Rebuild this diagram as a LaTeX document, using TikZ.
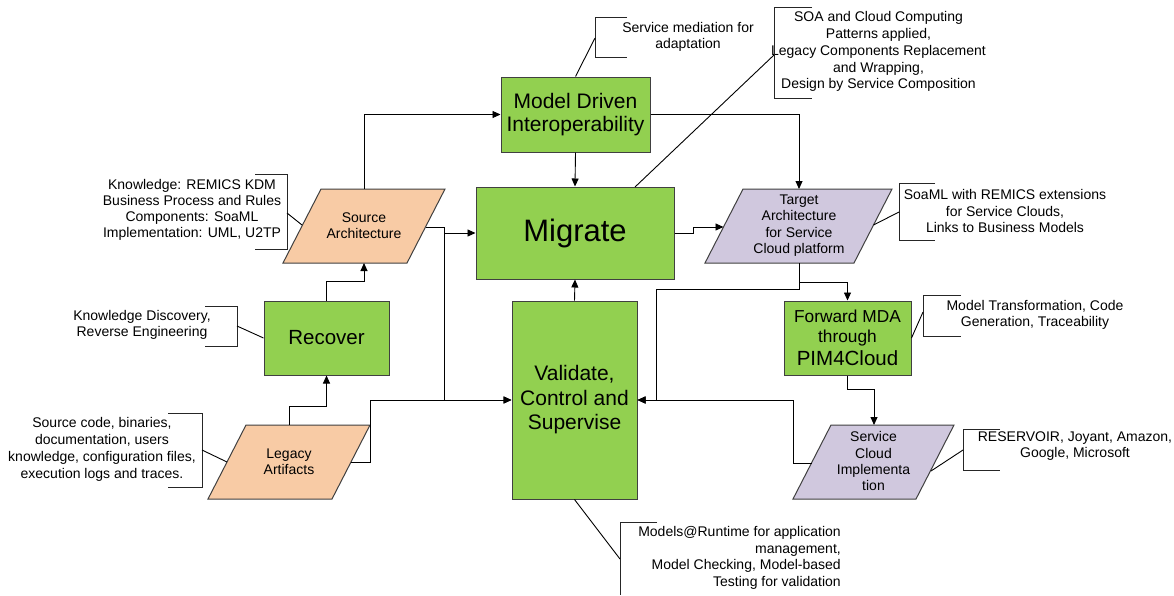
\documentclass[tikz,border=0pt]{standalone}
\usepackage{fontspec}
\setmainfont{Liberation Sans}
\usetikzlibrary{arrows.meta}
\definecolor{gbox}{HTML}{92D050}
\definecolor{peach}{HTML}{F8CBA5}
\definecolor{lav}{HTML}{D0C8DE}
\definecolor{edgec}{HTML}{404040}
\begin{document}
\begin{tikzpicture}[x=1pt,y=-1pt,
  box/.style={draw=edgec, fill=gbox, line width=1pt, inner sep=0pt, align=center},
  pbox/.style={draw=edgec, line width=1pt, line join=miter},
  ptext/.style={align=center, inner sep=0pt, font=\fontsize{14}{16}\selectfont},
  ann/.style={align=center, inner sep=0pt, font=\fontsize{14}{16.5}\selectfont},
  conn/.style={line width=0.9pt, -{Triangle[length=8pt,width=7pt]}},
  wire/.style={line width=0.9pt},
  brk/.style={line width=0.9pt, draw=black!85}]
\useasboundingbox (0,0) rectangle (1174,595);
\fill[white] (0,0) rectangle (1174,595);

% ---- green boxes
\node[box, minimum width=149pt, minimum height=75pt, font=\fontsize{21}{23}\selectfont] (mdi) at (575.5,114.5) {Model Driven\\Interoperability};
\node[box, minimum width=198pt, minimum height=92pt, font=\fontsize{31}{36}\selectfont] (mig) at (575,233) {Migrate};
\node[box, minimum width=125pt, minimum height=74pt, font=\fontsize{20.5}{24}\selectfont] (rec) at (326.5,338) {Recover};
\node[box, minimum width=125pt, minimum height=198pt, font=\fontsize{21}{24.5}\selectfont] (val) at (574.5,400) {Validate,\\Control and\\Supervise};
\node[box, minimum width=127pt, minimum height=74pt, font=\fontsize{17.3}{20}\selectfont] (fwd) at (847.5,338) {Forward MDA\\through\\[3pt]{\fontsize{20.5}{23}\selectfont PIM4Cloud}};

% ---- parallelograms
\draw[pbox, fill=peach] (321,189) -- (445,189) -- (407,263) -- (283,263) -- cycle;
\node[ptext] (src) at (364,225.5) {Source\\Architecture};
\draw[pbox, fill=peach] (246,425) -- (370,425) -- (332,499) -- (208,499) -- cycle;
\node[ptext] (leg) at (289,461.7) {Legacy\\Artifacts};
\draw[pbox, fill=lav] (743,189) -- (892,189) -- (854,263) -- (705,263) -- cycle;
\node[ptext, font=\fontsize{14}{16.5}\selectfont] (tgt) at (799,225.4) {Target\\Architecture\\for Service\\Cloud platform};
\draw[pbox, fill=lav] (831,425) -- (954,425) -- (916,499) -- (793,499) -- cycle;
\node[ptext, font=\fontsize{14}{16.3}\selectfont] (svc) at (873.5,461.2) {Service\\Cloud\\Implementa\\tion};

% ---- anchor points on parallelogram edges
\coordinate (srcN) at (364,189);
\coordinate (srcS) at (364,263);
\coordinate (srcE) at (426,227);
\coordinate (srcW) at (302,225);
\coordinate (legN) at (289,425);
\coordinate (legE) at (351,462);
\coordinate (legW) at (227,462);
\coordinate (tgtN) at (799,189);
\coordinate (tgtS) at (799,263);
\coordinate (tgtW) at (723.5,227);
\coordinate (tgtE) at (873.5,225);
\coordinate (svcN) at (874,425);
\coordinate (svcW) at (811.5,463);
\coordinate (svcE) at (931,471);
\coordinate (migT) at (635,187);

% ---- connectors
\draw[conn] (srcN) |- (mdi.west);
\draw[conn] (mdi.east) -| (tgtN);
\draw[conn] (mdi.south) -- (mig.north);
\draw[conn] (val.north) -- (mig.south);
\coordinate (j1) at (444,227);
\draw[conn] (srcE) -- (j1) -- (444,233) -- (mig.west);
\draw[conn] (j1) -- (444,400) -- (val.west);
\draw[conn] (legE) -- (370,462) -- (370,400) -- (val.west);
\draw[conn] (legN) -- (289,406) -| (rec.south);
\draw[conn] (rec.north) -- (326.5,281) -| (srcS);
\draw[conn] (mig.east) -- (693,233) -- (693,227) -- (tgtW);
\draw[conn] (tgtS) -- (799,282) -| (fwd.north);
\draw[conn] (tgtS) -- (799,289) -- (656,289) -- (656,400) -- (val.east);
\draw[conn] (fwd.south) -- (847.5,389) -| (svcN);
\draw[conn] (svcW) -- (793,463) -- (793,400) -- (val.east);

% ---- annotations
\node[ann, font=\fontsize{14}{16}\selectfont] (a1) at (192,210) {Knowledge: REMICS KDM\\Business Process and Rules\\Components: SoaML\\Implementation: UML, U2TP};
\draw[brk] (255,174.5) -- (287,174.5) -- (287,249) -- (255,249);
\draw[wire] (287,213) -- (srcW);

\node[ann] (a2) at (142,325) {Knowledge Discovery,\\Reverse Engineering};
\draw[brk] (205,306) -- (237,306) -- (237,346) -- (205,346);
\draw[wire] (237,326) -- (rec.west);

\node[ann, font=\fontsize{14}{17}\selectfont] (a3) at (102,449.5) {Source code, binaries,\\documentation, users\\knowledge, configuration files,\\execution logs and traces.};
\draw[brk] (168,413) -- (202,413) -- (202,487) -- (168,487);
\draw[wire] (202,450) -- (legW);

\node[ann] (a4) at (688,36.7) {Service mediation for\\adaptation};
\draw[brk] (627,17) -- (595,17) -- (595,57) -- (627,57);
\draw[wire] (595,38) -- (mdi.north);

\node[ann, font=\fontsize{14}{16.75}\selectfont] (a5) at (878.5,51.8) {SOA and Cloud Computing\\Patterns applied,\\Legacy Components Replacement\\and Wrapping,\\Design by Service Composition};
\draw[brk] (812,7.5) -- (774,7.5) -- (774,98) -- (812,98);
\draw[wire] (774,55) -- (migT);

\node[ann] (a6) at (1005,211) {SoaML with REMICS extensions\\for Service Clouds,\\Links to Business Models};
\draw[brk] (935,183.5) -- (899,183.5) -- (899,240) -- (935,240);
\draw[wire] (899,212) -- (tgtE);

\node[ann] (a7) at (1035,315) {Model Transformation, Code\\Generation, Traceability};
\draw[brk] (961,295) -- (923,295) -- (923,336) -- (961,336);
\draw[wire] (923,312) -- (fwd.east);

\node[ann] (a8) at (1075,446) {RESERVOIR, Joyant, Amazon,\\Google, Microsoft};
\draw[brk] (1000,429.5) -- (963,429.5) -- (963,470) -- (1000,470);
\draw[wire] (963,450) -- (svcE);

\node[ann, align=right, anchor=east] (a9) at (841,558) {Models@Runtime for application\\management,\\Model Checking, Model-based\\Testing for validation};
\draw[brk] (657,522) -- (620,522) -- (620,595);
\draw[wire] (620,559) -- (val.south);
\end{tikzpicture}
\end{document}
